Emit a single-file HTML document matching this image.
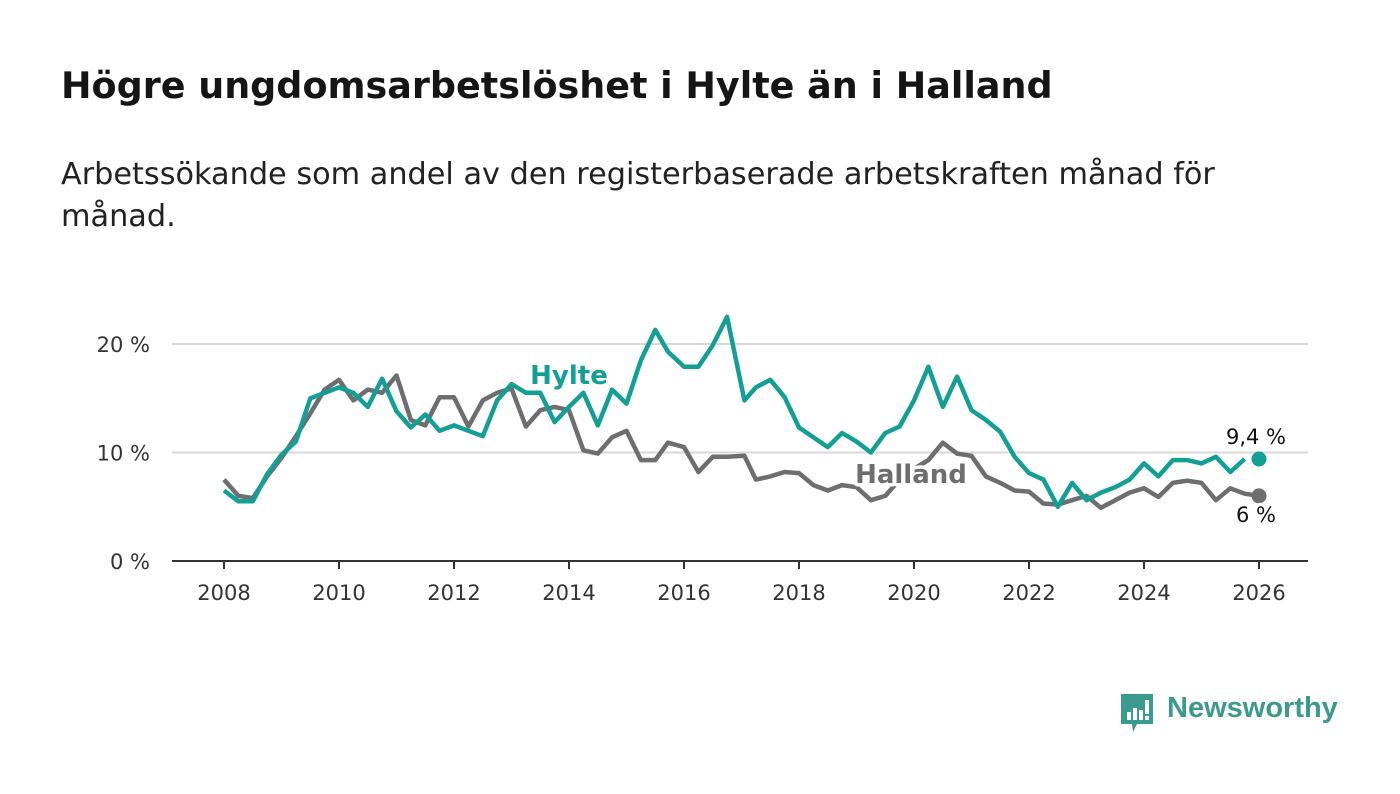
<!DOCTYPE html>
<html><head><meta charset="utf-8"><style>
body{margin:0;width:1400px;height:794px;background:#fff;font-family:"DejaVu Sans","Liberation Sans",sans-serif;overflow:hidden;position:relative}
#title{position:absolute;left:61px;top:64px;font-size:36.5px;font-weight:bold;color:#151515;margin:0;white-space:nowrap}
#sub{position:absolute;left:61px;top:154px;font-size:30.3px;color:#222;line-height:42px;width:1200px;margin:0}
svg{position:absolute;left:0;top:0}
</style></head><body>
<h1 id="title">Högre ungdomsarbetslöshet i Hylte än i Halland</h1>
<p id="sub">Arbetssökande som andel av den registerbaserade arbetskraften månad för månad.</p>
<svg id="chart" width="1400" height="794"></svg>
<div style="position:absolute;left:1119px;top:692px;display:flex;align-items:center">
<svg width="36" height="42" style="position:static"><path d="M2 2h32v30H18l-4 8-1-8H2z" fill="#3a9a8e"/><rect x="8" y="20" width="4" height="8" fill="#fff"/><rect x="14" y="16" width="4" height="12" fill="#fff"/><rect x="20" y="18" width="4" height="10" fill="#fff"/><rect x="26" y="8" width="4" height="14" fill="#fff"/><rect x="26" y="24" width="4" height="4" fill="#fff"/></svg>
<span style="font-family:'Liberation Sans',sans-serif;font-size:29px;font-weight:bold;color:#3a9a8e;margin-left:12px;margin-top:-10px">Newsworthy</span></div>
<script>
const dates=[2008,2008.25,2008.5,2008.75,2009,2009.25,2009.5,2009.75,2010,2010.25,2010.5,2010.75,2011,2011.25,2011.5,2011.75,2012,2012.25,2012.5,2012.75,2013,2013.25,2013.5,2013.75,2014,2014.25,2014.5,2014.75,2015,2015.25,2015.5,2015.72,2016,2016.25,2016.5,2016.75,2017.05,2017.25,2017.5,2017.75,2018,2018.25,2018.5,2018.75,2019,2019.25,2019.5,2019.75,2020,2020.25,2020.5,2020.75,2021,2021.25,2021.5,2021.75,2022,2022.25,2022.5,2022.75,2023,2023.25,2023.5,2023.75,2024,2024.25,2024.5,2024.75,2025,2025.25,2025.5,2025.75,2026];
const hylte=[6.5,5.5,5.5,8,9.8,11,15,15.5,16,15.5,14.2,16.8,13.8,12.3,13.5,12,12.5,12,11.5,14.8,16.3,15.5,15.5,12.8,14.2,15.5,12.5,15.8,14.5,18.5,21.3,19.3,17.9,17.9,19.9,22.5,14.8,16,16.7,15.1,12.3,11.4,10.5,11.8,11,10,11.8,12.4,14.8,17.9,14.2,17,13.9,13,11.9,9.6,8.1,7.5,5,7.2,5.6,6.3,6.8,7.5,9,7.8,9.3,9.3,9,9.6,8.2,9.4];
const halland=[7.5,6,5.8,7.8,9.5,11.5,13.6,15.8,16.7,14.8,15.8,15.5,17.1,13,12.5,15.1,15.1,12.4,14.8,15.5,15.9,12.4,13.9,14.2,13.9,10.2,9.9,11.4,12,9.3,9.3,10.9,10.5,8.2,9.6,9.6,9.7,7.5,7.8,8.2,8.1,7,6.5,7,6.8,5.6,6,7.5,8.5,9.3,10.9,9.9,9.7,7.8,7.2,6.5,6.4,5.3,5.2,5.6,6,4.9,5.6,6.3,6.7,5.9,7.2,7.4,7.2,5.6,6.7,6.2,6];
const yTicks=[0,10,20];
const xTicks=[2008,2010,2012,2014,2016,2018,2020,2022,2024,2026];
const NS='http://www.w3.org/2000/svg';
const svg=document.getElementById('chart');
const X=v=>224+(v-2008)*57.5;
const Y=v=>561-v*10.85;
function mk(t,a,txt){const e=document.createElementNS(NS,t);for(const k in a)e.setAttribute(k,a[k]);if(txt!=null)e.textContent=txt;svg.appendChild(e);return e;}
yTicks.forEach(t=>{
 if(t>0){const g=mk('line',{x1:172,x2:1308,y1:Y(t),y2:Y(t),stroke:'#d8d8d8','stroke-width':2});
 
 }
 const l=mk('text',{x:150,y:Y(t)+8,'text-anchor':'end','font-size':21,fill:'#333'},t+' %');
 
 
});
const ax=mk('line',{x1:172,x2:1308,y1:561,y2:561,stroke:'#333','stroke-width':2});


xTicks.forEach(t=>{
 const tk=mk('line',{x1:X(t),x2:X(t),y1:561,y2:569,stroke:'#333','stroke-width':2});
 
 
 const l=mk('text',{x:X(t),y:600,'text-anchor':'middle','font-size':21,fill:'#333'},t);
 
 
});
function line(vals,col,name){
 const d=vals.map((v,i)=>(i?'L':'M')+X(dates[i]).toFixed(1)+' '+Y(v).toFixed(1)).join('');
 const p=mk('path',{d:d,fill:'none',stroke:col,'stroke-width':4.5,'stroke-linejoin':'round'});
 
 
 const c=mk('circle',{cx:X(dates[dates.length-1]),cy:Y(vals[vals.length-1]),r:7.5,fill:col});
 
 
}
line(halland,'#6e6d70','halland-line');
line(hylte,'#12a096','hylte-line');
function lab(x,y,txt,col,name,bold,anchor){
 const a={x:x,y:y,'font-size':bold?26:21,'font-weight':bold?'bold':'normal',fill:col,'text-anchor':anchor||'middle'};
 const h=mk('text',Object.assign({},a,{stroke:'#fff','stroke-width':7,'stroke-linejoin':'round'}),txt);
 
 
 const t=mk('text',a,txt);
 
 
}
lab(569,384,'Hylte','#12a096','hylte-label',true);
lab(911,483,'Halland','#6e6d70','halland-label',true);
lab(1256,444,'9,4 %','#111','hylte-end-value',false);
lab(1256,522,'6 %','#111','halland-end-value',false);
</script>
</body></html>
